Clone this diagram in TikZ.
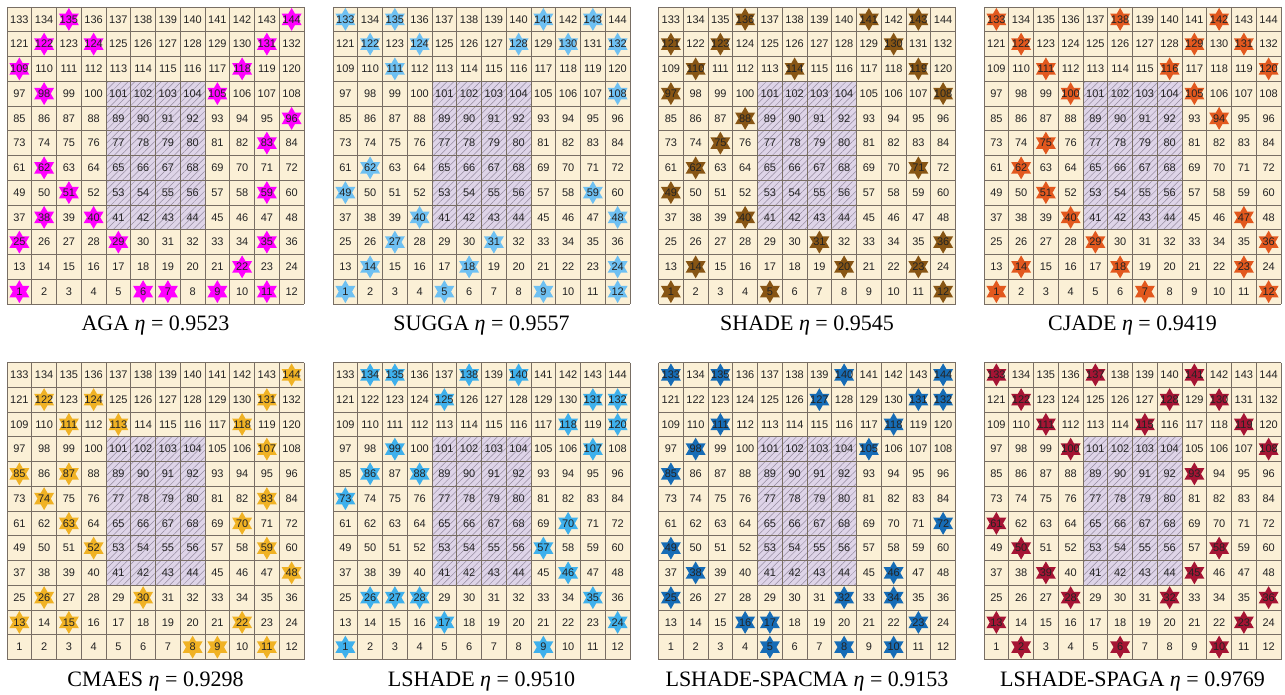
\documentclass[tikz,border=0pt]{standalone}
\usepackage{fontspec}
\setmainfont{Liberation Serif}
\setsansfont{Liberation Sans}
\usetikzlibrary{patterns.meta}
\definecolor{cellbg}{RGB}{251,240,214}
\definecolor{hatchbg}{RGB}{222,212,232}
\definecolor{hatchline}{RGB}{150,140,160}
\definecolor{gridcol}{RGB}{120,110,100}
\definecolor{numcol}{RGB}{35,35,35}
\definecolor{cAGA}{RGB}{255,0,255}
\definecolor{cSUGGA}{RGB}{110,192,242}
\definecolor{cSHADE}{RGB}{135,85,20}
\definecolor{cCJADE}{RGB}{226,88,30}
\definecolor{cCMAES}{RGB}{240,178,36}
\definecolor{cLSHADE}{RGB}{62,176,236}
\definecolor{cSPACMA}{RGB}{22,108,182}
\definecolor{cSPAGA}{RGB}{165,20,52}
\tikzset{
  gridline/.style={draw=gridcol, line width=0.7pt},
  cellnum/.style={font=\sffamily\fontsize{11}{11}\selectfont, text=numcol, inner sep=0pt},
  captext/.style={font=\fontsize{22}{22}\selectfont, anchor=base, inner sep=0pt},
}
\newcommand\drawgrid[6]{%
 \begin{scope}[shift={(#1,#2)}]
  \fill[cellbg] (0,0) rectangle (297,297);
  \fill[hatchbg] (99,74.25) rectangle (198,222.75);
  \fill[pattern={Lines[angle=45,distance=4.7pt,line width=0.5pt]}, pattern color=hatchline] (99,74.25) rectangle (198,222.75);
  \foreach \i in {0,...,12} {
    \draw[gridline] ({\i*24.75},0) -- ({\i*24.75},297);
    \draw[gridline] (0,{\i*24.75}) -- (297,{\i*24.75});
  }
  \foreach \n in {#5} {
    \pgfmathtruncatemacro\cc{mod(\n-1,12)}
    \pgfmathtruncatemacro\rr{div(\n-1,12)}
    \fill[#4, shift={({(\cc+0.5)*24.75},{297-(\rr+0.5)*24.75})}]
      (90:11.5) -- (120:6.64) -- (150:11.5) -- (180:6.64) -- (210:11.5) -- (240:6.64)
      -- (270:11.5) -- (300:6.64) -- (330:11.5) -- (0:6.64) -- (30:11.5) -- (60:6.64) -- cycle;
  }
  \foreach \n in {1,...,144} {
    \pgfmathtruncatemacro\cc{mod(\n-1,12)}
    \pgfmathtruncatemacro\rr{div(\n-1,12)}
    \node[cellnum] (#3-\n) at ({(\cc+0.5)*24.75},{297-(\rr+0.5)*24.75}) {\n};
  }
  \node[captext] (#3-cap) at (148.5,323.5) {#6};
 \end{scope}
}
\begin{document}
\begin{tikzpicture}[x=1pt,y=-1pt]
\useasboundingbox (0,0) rectangle (1285,695);
\drawgrid{7}{7}{aga}{cAGA}{135,144,122,124,131,109,118,98,105,96,83,62,51,59,38,40,25,29,35,22,1,6,7,9,11}{AGA {\itshape η} = 0.9523}
\drawgrid{333}{7}{sugga}{cSUGGA}{133,135,141,143,122,124,128,130,132,111,108,62,49,59,40,48,27,31,14,18,24,1,5,9,12}{SUGGA {\itshape η} = 0.9557}
\drawgrid{658.5}{7}{shade}{cSHADE}{136,141,143,121,123,130,110,114,119,97,108,88,75,62,71,49,40,31,36,14,20,23,1,5,12}{SHADE {\itshape η} = 0.9545}
\drawgrid{984}{7}{cjade}{cCJADE}{133,138,142,122,129,131,111,116,120,100,105,94,75,62,51,40,47,29,36,14,18,23,1,7,12}{CJADE {\itshape η} = 0.9419}
\drawgrid{7}{362.5}{cmaes}{cCMAES}{144,122,124,131,111,113,118,107,85,87,74,83,63,70,52,59,48,26,30,13,15,22,8,9,11}{CMAES {\itshape η} = 0.9298}
\drawgrid{333}{362.5}{lshade}{cLSHADE}{134,135,138,140,125,131,132,118,120,99,107,86,88,73,70,57,46,26,27,28,35,17,24,1,9}{LSHADE {\itshape η} = 0.9510}
\drawgrid{658.5}{362.5}{spacma}{cSPACMA}{133,135,140,144,127,131,132,111,118,98,105,85,72,49,38,46,25,32,34,16,17,23,5,8,10}{LSHADE-SPACMA {\itshape η} = 0.9153}
\drawgrid{984}{362.5}{spaga}{cSPAGA}{133,137,141,122,128,130,111,115,119,100,108,93,61,50,58,39,45,28,32,36,13,23,2,6,10}{LSHADE-SPAGA {\itshape η} = 0.9769}
\end{tikzpicture}
\end{document}
